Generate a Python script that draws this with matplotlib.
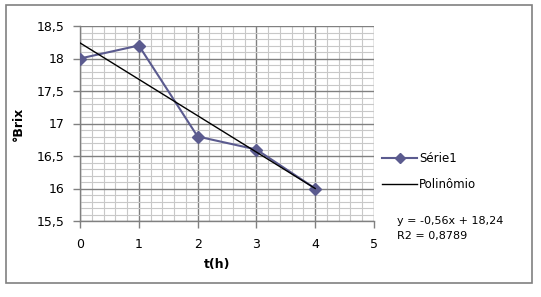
import numpy as np
import matplotlib.pyplot as plt
from matplotlib.patches import Rectangle
from matplotlib.ticker import MultipleLocator, FuncFormatter

# data
t_h = [0, 1, 2, 3, 4]
brix = [18.0, 18.2, 16.8, 16.6, 16.0]

W, H = 541, 297
fig = plt.figure(figsize=(W / 100, H / 100), dpi=100)
plt.rcParams['font.family'] = ['DejaVu Sans']

# outer chart frame
fig.patches.append(Rectangle((6 / W, 1 - 283 / H), (532 - 6) / W, (283 - 5) / H,
                             transform=fig.transFigure, fill=False,
                             edgecolor='#808080', linewidth=1.2))

ax = fig.add_axes([80 / W, 1 - 221 / H, (374 - 80) / W, (221 - 26) / H])

# trend line (linear fit)
coef = np.polyfit(t_h, brix, 1)
pred = np.polyval(coef, t_h)
r2 = 1 - np.sum((np.array(brix) - pred) ** 2) / np.sum((np.array(brix) - np.mean(brix)) ** 2)

serie_color = '#5B5B8F'
ax.plot(t_h, brix, color=serie_color, marker='D', markersize=6, linewidth=1.5,
        label='Série1', zorder=3)
xs = np.array([t_h[0], t_h[-1]])
ax.plot(xs, np.polyval(coef, xs), color='black', linewidth=1.0, label='Polinômio', zorder=4)

ax.set_xlim(0, 5)
ax.set_ylim(15.5, 18.5)
ax.xaxis.set_major_locator(MultipleLocator(1))
ax.xaxis.set_minor_locator(MultipleLocator(0.2))
ax.yaxis.set_major_locator(MultipleLocator(0.5))
ax.yaxis.set_minor_locator(MultipleLocator(0.1))

fmt = FuncFormatter(lambda v, p: ('%g' % v).replace('.', ','))
ax.xaxis.set_major_formatter(fmt)
ax.yaxis.set_major_formatter(fmt)

ax.grid(which='major', color='#808080', linewidth=1.0)
ax.grid(which='minor', color='#C8C8C8', linewidth=0.8)
ax.set_axisbelow(True)

for s in ['top', 'right']:
    ax.spines[s].set_visible(False)
for s in ['left', 'bottom']:
    ax.spines[s].set_color('#808080')
    ax.spines[s].set_linewidth(1.0)

ax.tick_params(which='major', direction='out', length=5, width=1, color='#808080',
               labelsize=9, pad=6)
ax.tick_params(axis='x', which='major', pad=7)
ax.tick_params(which='minor', length=0)

ax.set_xlabel('t(h)', fontsize=9, fontweight='bold')
ax.set_ylabel('°Brix', fontsize=9, fontweight='bold')
ax.xaxis.set_label_coords(137 / 294, -37 / 195)
ax.yaxis.set_label_coords(-55 / 294, 0.5)

ax.legend(loc='upper left', bbox_to_anchor=(376 / W, 1 - 146 / H),
          bbox_transform=fig.transFigure, frameon=False, fontsize=8.5,
          handlelength=3.0, handletextpad=0.15, labelspacing=1.15, borderpad=0,
          markerscale=0.85)

eq = 'y = %s%.2fx + %.2f' % ('-' if coef[0] < 0 else '', abs(coef[0]), coef[1])
eq = eq.replace('.', ',')
fig.text(397 / W, 1 - 221 / H, eq, fontsize=8, va='center', ha='left')
fig.text(397 / W, 1 - 236 / H, ('R2 = %.4f' % r2).replace('.', ','),
         fontsize=8, va='center', ha='left')

fig.savefig('out.png', dpi=100)
